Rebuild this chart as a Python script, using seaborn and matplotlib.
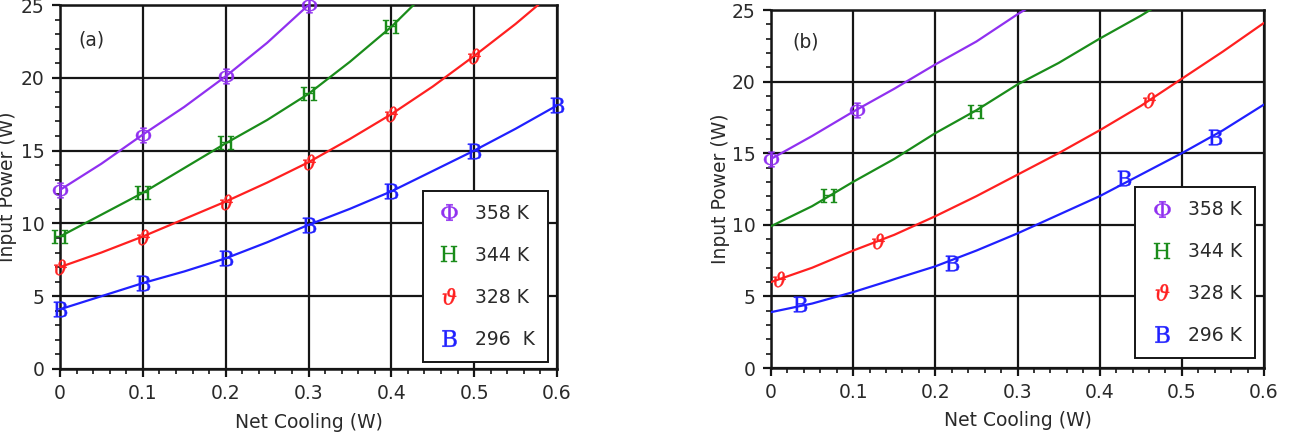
import numpy as np
import pandas as pd
import matplotlib
matplotlib.use("Agg")
import matplotlib.pyplot as plt
import seaborn as sns
from matplotlib.lines import Line2D
from matplotlib.ticker import MultipleLocator

sns.set_style("ticks")
plt.rcParams['font.family'] = ['DejaVu Sans']
plt.rcParams['mathtext.fontset'] = 'dejavuserif'

temps = ["358 K", "344 K", "328 K", "296 K"]
legend_a = ["358 K", "344 K", "328 K", "296  K"]
legend_b = ["358 K", "344 K", "328 K", "296 K"]
colors = ["#9030f0", "#1a8c1a", "#ff2020", "#2020ff"]
glyphs = [r"$\Phi$", r"$\mathrm{H}$", r"$\vartheta$", r"$\mathrm{B}$"]

# ---- Panel (a): curve readings ----
xa_358 = [0.0, 0.05, 0.1, 0.15, 0.2, 0.25, 0.3, 0.32]
ya_358 = [12.3, 14.1, 16.1, 18.0, 20.1, 22.4, 25.0, 26.1]
xa_344 = [0.0, 0.05, 0.1, 0.15, 0.2, 0.25, 0.3, 0.35, 0.4, 0.45]
ya_344 = [9.1, 10.6, 12.1, 13.8, 15.5, 17.1, 18.9, 21.1, 23.5, 26.3]
xa_328 = [0.0, 0.05, 0.1, 0.15, 0.2, 0.25, 0.3, 0.35, 0.4, 0.45, 0.5, 0.55, 0.6]
ya_328 = [7.0, 8.0, 9.1, 10.3, 11.5, 12.8, 14.2, 15.8, 17.5, 19.4, 21.5, 23.7, 26.1]
xa_296 = [0.0, 0.05, 0.1, 0.15, 0.2, 0.25, 0.3, 0.35, 0.4, 0.45, 0.5, 0.55, 0.6]
ya_296 = [4.1, 5.0, 5.9, 6.7, 7.6, 8.7, 9.9, 11.0, 12.2, 13.6, 15.0, 16.5, 18.1]

# Panel (a) marker positions
ma_x_358 = [0.0, 0.1, 0.2, 0.3]
ma_y_358 = [12.3, 16.1, 20.1, 25.0]
ma_x_344 = [0.0, 0.1, 0.2, 0.3, 0.4]
ma_y_344 = [9.1, 12.1, 15.5, 18.9, 23.5]
ma_x_328 = [0.0, 0.1, 0.2, 0.3, 0.4, 0.5]
ma_y_328 = [7.0, 9.1, 11.5, 14.2, 17.5, 21.5]
ma_x_296 = [0.0, 0.1, 0.2, 0.3, 0.4, 0.5, 0.6]
ma_y_296 = [4.1, 5.9, 7.6, 9.9, 12.2, 15.0, 18.1]

# ---- Panel (b): curve readings ----
xb_358 = [0.0, 0.05, 0.1, 0.15, 0.2, 0.25, 0.3, 0.32]
yb_358 = [14.6, 16.2, 17.9, 19.5, 21.2, 22.8, 24.7, 25.4]
xb_344 = [0.0, 0.05, 0.1, 0.15, 0.2, 0.25, 0.3, 0.35, 0.4, 0.45, 0.47]
yb_344 = [9.9, 11.3, 13.0, 14.6, 16.4, 18.0, 19.8, 21.3, 23.0, 24.6, 25.3]
xb_328 = [0.0, 0.05, 0.1, 0.15, 0.2, 0.25, 0.3, 0.35, 0.4, 0.45, 0.5, 0.55, 0.6]
yb_328 = [6.0, 7.0, 8.2, 9.3, 10.6, 12.0, 13.5, 15.0, 16.6, 18.3, 20.2, 22.1, 24.1]
xb_296 = [0.0, 0.05, 0.1, 0.15, 0.2, 0.25, 0.3, 0.35, 0.4, 0.45, 0.5, 0.55, 0.6]
yb_296 = [3.9, 4.5, 5.3, 6.2, 7.1, 8.2, 9.4, 10.7, 12.0, 13.5, 15.0, 16.6, 18.4]

# Panel (b) marker positions
mb_x_358 = [0.0, 0.105]
mb_y_358 = [14.6, 18.0]
mb_x_344 = [0.07, 0.25]
mb_y_344 = [12.0, 17.9]
mb_x_328 = [0.01, 0.13, 0.46]
mb_y_328 = [6.2, 8.9, 18.7]
mb_x_296 = [0.035, 0.22, 0.43, 0.54]
mb_y_296 = [4.5, 7.3, 13.3, 16.1]

panel_a_lines = [(xa_358, ya_358), (xa_344, ya_344), (xa_328, ya_328), (xa_296, ya_296)]
panel_a_marks = [(ma_x_358, ma_y_358), (ma_x_344, ma_y_344), (ma_x_328, ma_y_328), (ma_x_296, ma_y_296)]
panel_b_lines = [(xb_358, yb_358), (xb_344, yb_344), (xb_328, yb_328), (xb_296, yb_296)]
panel_b_marks = [(mb_x_358, mb_y_358), (mb_x_344, mb_y_344), (mb_x_328, mb_y_328), (mb_x_296, mb_y_296)]

FS = 13.5
TXT = '#2a2a2a'
fig = plt.figure(figsize=(12.96, 4.41), dpi=100)
ax_a = fig.add_axes([60 / 1296, 72 / 441, 497 / 1296, 364 / 441])
ax_b = fig.add_axes([771 / 1296, 73 / 441, 493 / 1296, 358 / 441])


def draw(ax, lines, marks, legend_labels, tag, tag_pos, ylab_x, leg_anchor):
    for (lx, ly), (mx, my), c, g in zip(lines, marks, colors, glyphs):
        sns.lineplot(x=lx, y=ly, ax=ax, color=c, lw=1.6, sort=False, zorder=3)
        ax.scatter(mx, my, marker=g, s=125, color=c, linewidths=0.3, zorder=4, clip_on=False)
    ax.set_xlim(0, 0.6)
    ax.set_ylim(0, 25)
    ax.xaxis.set_minor_locator(MultipleLocator(0.02))
    ax.yaxis.set_minor_locator(MultipleLocator(1))
    ax.set_xticks([0, 0.1, 0.2, 0.3, 0.4, 0.5, 0.6])
    ax.set_xticklabels(["0", "0.1", "0.2", "0.3", "0.4", "0.5", "0.6"])
    ax.set_yticks([0, 5, 10, 15, 20, 25])
    ax.set_yticklabels(["0", "5", "10", "15", "20", "25"])
    ax.grid(True, which='major', color='#151515', lw=1.6, zorder=1)
    ax.set_axisbelow(True)
    for s in ax.spines.values():
        s.set_color('#151515')
        s.set_linewidth(1.8)
    ax.tick_params(which='major', direction='out', length=6, width=1.6, labelsize=FS,
                   colors='#151515', labelcolor=TXT)
    ax.tick_params(axis='x', which='major', pad=5)
    ax.tick_params(axis='y', which='major', pad=5)
    ax.tick_params(which='minor', direction='out', length=3.5, width=1.2, colors='#151515')
    ax.set_xlabel("Net Cooling (W)", fontsize=FS, color=TXT)
    ax.set_ylabel("Input Power (W)", fontsize=FS, color=TXT)
    ax.xaxis.set_label_coords(0.5, -0.148)
    ax.xaxis.label.set_va('center')
    ax.yaxis.set_label_coords(ylab_x, 0.5)
    ax.yaxis.label.set_va('center')
    ax.text(tag_pos[0], tag_pos[1], tag, transform=ax.transAxes, fontsize=FS,
            color=TXT, va='center', ha='left')
    handles = [Line2D([], [], ls='none', marker=g, color=c, markersize=12, markeredgewidth=0.3)
               for g, c in zip(glyphs, colors)]
    leg = ax.legend(handles, legend_labels, loc='lower right', bbox_to_anchor=leg_anchor,
                    fontsize=FS, frameon=True, fancybox=False, framealpha=1,
                    edgecolor='#151515', labelspacing=1.22, handlelength=1.4,
                    handletextpad=0.7, borderpad=0.7, borderaxespad=0.0)
    leg.get_frame().set_linewidth(1.4)
    for t in leg.get_texts():
        t.set_color(TXT)


draw(ax_a, panel_a_lines, panel_a_marks, legend_a, "(a)", (0.036, 0.904), -0.105, (0.982, 0.02))
draw(ax_b, panel_b_lines, panel_b_marks, legend_b, "(b)", (0.043, 0.911), -0.102, (0.982, 0.028))

fig.savefig("out.png", dpi=100)
